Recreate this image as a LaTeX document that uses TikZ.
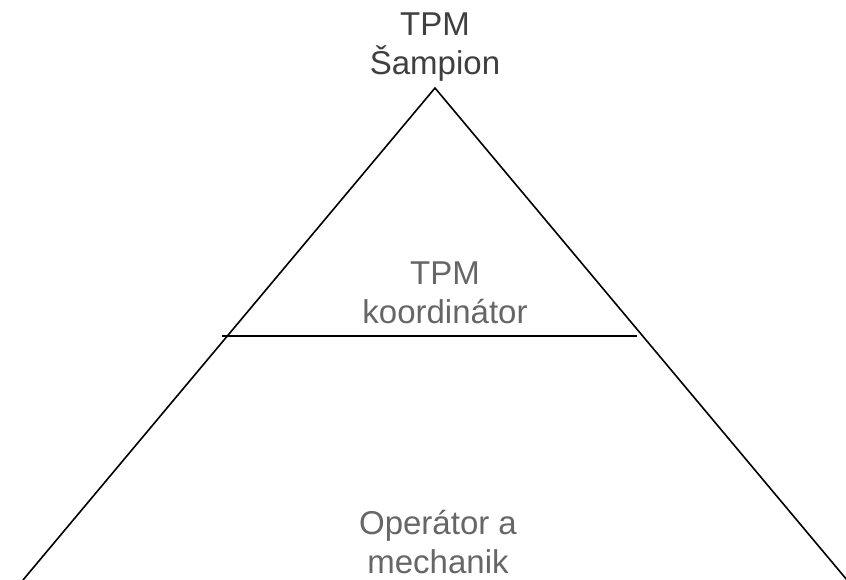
\documentclass[tikz,border=0pt]{standalone}
\usepackage{fontspec}
\setmainfont{Liberation Sans}
\usepackage{tikz}
\usetikzlibrary{calc}
\definecolor{topgray}{HTML}{3F3F3F}
\definecolor{txtgray}{HTML}{666666}
\tikzset{lvl/.style={font=\fontsize{33}{39}\selectfont, align=center, inner sep=0pt, anchor=north}}
\tikzset{edge/.style={line width=1.6pt, black}}

\begin{document}
\begin{tikzpicture}[x=1pt, y=1pt]
        \useasboundingbox (0,0) rectangle (846,580);
        \begin{scope}
          \coordinate (apex) at (435,492);
          \coordinate (BL) at (23,0);
          \coordinate (BR) at (847,0);
          \coordinate (ML) at (222,244);
          \coordinate (MR) at (637,244);
          \draw [edge] (BL) -- (apex) -- (BR);
          \draw [edge] (ML) -- (MR);
          \node [lvl, text=topgray] (champ) at (435,567) {TPM\\Šampion};
          \node [lvl, text=txtgray] (coord) at (445,318) {TPM\\koordinátor};
          \node [lvl, text=txtgray] (oper) at (438,70) {Operátor a\\mechanik};
        \end{scope}
      \end{tikzpicture}
\end{document}
